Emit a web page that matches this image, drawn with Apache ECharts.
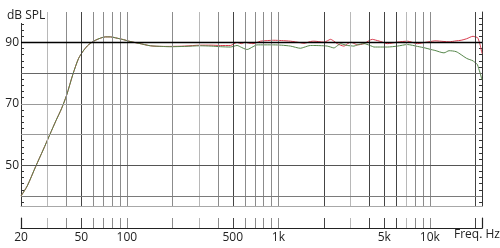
<!DOCTYPE html>
<html>
<head>
<meta charset="utf-8">
<script src="https://cdn.jsdelivr.net/npm/echarts@6/dist/echarts.min.js"></script>
<style>
html,body{margin:0;padding:0;background:#fff;}
#chart{width:500px;height:248px;}
</style>
</head>
<body>
<div id="chart"></div>
<script>
// Frequencies (Hz)
const freqs = [20,22,25,28,31,34,37,40,44,48,52,56,62,67,72,78,84,95,105,120,143,170,192,240,306,360,416,482,534,570,606,622,680,724,762,850,933,1050,1203,1400,1473,1631,1715,1997,2103,2212,2326,2450,2576,2708,2852,3000,3154,3322,3672,4174,4276,4734,5244,6106,7112,8284,9300,10140,10800,12400,13400,14900,16100,17500,19300,19600,20600,21000,21500,22100];
// Green curve (dB SPL)
const greenDb = [40.0,43.3,49.6,55.0,60.0,64.5,68.4,72.8,79.6,84.8,87.5,89.3,90.7,91.4,91.8,91.8,91.5,90.9,90.3,89.7,88.9,88.7,88.6,88.7,88.9,88.8,88.6,88.5,89.0,88.4,87.8,87.7,88.6,89.2,89.2,89.2,89.2,89.1,88.8,88.1,88.4,89.0,89.0,88.9,88.8,88.5,88.2,88.9,89.6,89.3,89.0,88.9,88.8,89.2,89.6,88.7,88.5,88.5,88.5,88.8,89.3,88.7,88.2,87.7,87.4,86.6,87.3,87.0,86.0,84.8,84.0,83.7,82.8,81.5,80.0,77.8];
// Red curve (dB SPL)
const redDb = [40.0,43.3,49.6,55.0,60.0,64.5,68.4,72.8,79.6,84.8,87.5,89.3,90.7,91.4,91.8,91.8,91.5,90.9,90.3,89.7,88.9,88.7,88.7,88.8,89.1,89.1,89.0,89.0,90.0,89.6,90.1,89.9,89.6,90.0,90.4,90.6,90.7,90.6,90.4,89.9,89.7,90.3,90.4,90.1,90.5,91.0,90.4,89.6,89.1,88.8,89.5,90.1,89.7,89.2,89.6,91.0,90.9,90.3,89.6,90.1,90.4,89.6,90.0,90.3,90.5,90.3,90.2,90.5,90.7,91.2,92.0,91.9,91.6,90.8,89.1,86.4];

// Axis ranges and ticks
const xMin = 20, xMax = 22100;
const yMin = 36.75, yMax = 99.9;
const yLabelValues = [50, 70, 90];
const yTickValues = [38,40,42,44,46,48,50,52,54,56,58,60,62,64,66,68,70,72,74,76,78,80,82,84,86,88,90,92,94,96,98];
const xLabelValues = [20, 50, 100, 500, 1000, 5000, 10000];
// Horizontal grid lines: [value, colour]
const hGrid = [[40,'#7a7a7a'],[50,'#555'],[60,'#999'],[70,'#999'],[80,'#666'],[90,'#000']];
// Vertical grid lines by shade
const vDark = [50, 500, 2000, 4000, 5000, 6000, 20000];
const vMid = [40, 60, 70, 80, 90, 100, 200, 400, 600, 700, 800, 900, 1000, 8000, 9000, 10000];
const vLight = [30, 300, 3000, 7000];

const chart = echarts.init(document.getElementById('chart'), null, {renderer: 'canvas'});

function vLines() {
  const out = [];
  vDark.forEach(v => out.push({xAxis: v, lineStyle: {color: '#444', width: 1, type: 'solid'}}));
  vMid.forEach(v => out.push({xAxis: v, lineStyle: {color: '#8c8c8c', width: 1, type: 'solid'}}));
  vLight.forEach(v => out.push({xAxis: v, lineStyle: {color: '#b8b8b8', width: 1, type: 'solid'}}));
  return out;
}
function hLines() {
  return hGrid.map(([v, c]) => ({yAxis: v, lineStyle: {color: c, width: v === 90 ? 1.4 : 1, type: 'solid'}}));
}
const mlBase = {symbol: ['none','none'], silent: true, animation: false, label: {show: false}, emphasis: {disabled: true}};

const fontFam = '"Open Sans", "Noto Sans", sans-serif';

const option = {
  animation: false,
  backgroundColor: '#fff',
  title: [
    {text: 'dB SPL', left: 6, top: 9, padding: [1, 1], backgroundColor: '#fff', z: 20,
     textStyle: {fontSize: 12, fontWeight: 'normal', color: '#222', fontFamily: fontFam}},
    {text: 'Freq. Hz', left: 454, top: 229, padding: 0,
     textStyle: {fontSize: 12, fontWeight: 'normal', color: '#222', fontFamily: fontFam}}
  ],
  grid: [
    {left: 21, right: 18, top: 12, height: 194, containLabel: false},
    {left: 21, right: 18, top: 218, height: 10, containLabel: false}
  ],
  xAxis: [
    {type: 'log', logBase: 10, min: xMin, max: xMax, gridIndex: 0,
     axisLine: {show: true, lineStyle: {color: '#a8a8a8', width: 1}},
     axisTick: {show: false}, axisLabel: {show: false}, splitLine: {show: false}},
    {type: 'log', logBase: 10, min: xMin, max: xMax, gridIndex: 1, position: 'top',
     axisLine: {show: true, lineStyle: {color: '#222', width: 1.2}},
     axisTick: {show: false}, axisLabel: {show: false}, splitLine: {show: false}},
    {type: 'log', logBase: 10, min: xMin, max: xMax, gridIndex: 1, position: 'bottom',
     axisLine: {show: false}, axisTick: {show: false, customValues: xLabelValues},
     splitLine: {show: false},
     axisLabel: {show: true, customValues: xLabelValues, margin: 4, color: '#222', fontSize: 12, fontFamily: fontFam,
       formatter: v => v >= 1000 ? (v / 1000) + 'k' : String(v)}}
  ],
  yAxis: [
    {type: 'value', min: yMin, max: yMax, gridIndex: 0, position: 'left',
     axisLine: {show: true, lineStyle: {color: '#333', width: 1}},
     axisTick: {show: true, inside: true, length: 3, customValues: yTickValues, lineStyle: {color: '#333'}},
     axisLabel: {show: true, customValues: yLabelValues, margin: 2, color: '#222', fontSize: 12, fontFamily: fontFam},
     splitLine: {show: false}},
    {type: 'value', min: yMin, max: yMax, gridIndex: 0, position: 'right',
     axisLine: {show: true, lineStyle: {color: '#333', width: 1}},
     axisTick: {show: true, inside: true, length: 3, customValues: yTickValues, lineStyle: {color: '#333'}},
     axisLabel: {show: false}, splitLine: {show: false}},
    {type: 'value', min: 0, max: 1, gridIndex: 1, position: 'left',
     axisLine: {show: true, lineStyle: {color: '#222', width: 1.2}},
     axisTick: {show: false}, axisLabel: {show: false}, splitLine: {show: false}},
    {type: 'value', min: 0, max: 1, gridIndex: 1, position: 'right',
     axisLine: {show: true, lineStyle: {color: '#222', width: 1.2}},
     axisTick: {show: false}, axisLabel: {show: false}, splitLine: {show: false}}
  ],
  series: [
    {type: 'line', name: 'grid-v', xAxisIndex: 0, yAxisIndex: 0, data: [], z: 1, silent: true,
     markLine: Object.assign({}, mlBase, {data: vLines()})},
    {type: 'line', name: 'grid-h', xAxisIndex: 0, yAxisIndex: 0, data: [], z: 1, silent: true,
     markLine: Object.assign({}, mlBase, {data: hLines()})},
    {type: 'line', name: 'strip-v', xAxisIndex: 1, yAxisIndex: 2, data: [], z: 1, silent: true,
     markLine: Object.assign({}, mlBase, {data: vLines()})},
    {type: 'line', name: 'red', xAxisIndex: 0, yAxisIndex: 0, z: 3,
     data: freqs.map((f, i) => [f, redDb[i]]),
     showSymbol: false, smooth: 0.25, lineStyle: {color: '#d83a4c', width: 1}},
    {type: 'line', name: 'green', xAxisIndex: 0, yAxisIndex: 0, z: 4,
     data: freqs.map((f, i) => [f, greenDb[i]]),
     showSymbol: false, smooth: 0.25, lineStyle: {color: '#55864a', width: 1}}
  ]
};
chart.setOption(option);
</script>
</body>
</html>
